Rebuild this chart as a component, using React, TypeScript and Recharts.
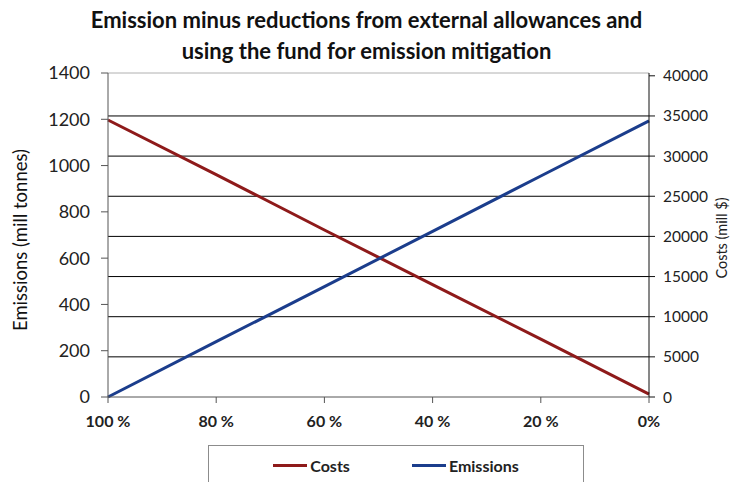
import { LineChart, Line, XAxis, YAxis, CartesianGrid, ReferenceLine, Legend } from 'recharts'

// share of fund used (x axis)
const categories = ['100 %', '80 %', '60 %', '40 %', '20 %', '0%']
const costs      = [34500, 27700, 20800, 14000, 7200, 350]   // mill $
const emissions  = [0, 239, 477, 716, 955, 1193]              // mill tonnes

const leftTicks  = [0, 200, 400, 600, 800, 1000, 1200, 1400]
const rightTicks = [0, 5000, 10000, 15000, 20000, 25000, 30000, 35000, 40000]
const gridValues = [5000, 10000, 15000, 20000, 25000, 30000, 35000]

const RED  = '#8e1a1a'
const BLUE = '#1b3d8c'
const FONT = 'Lato, "Open Sans", sans-serif'

const data = categories.map((c, i) => ({ share: c, costs: costs[i], emissions: emissions[i] }))

const LegendBox = () => (
  <div style={{
    width: 376, height: 44, border: '1px solid #8c8c8c', boxSizing: 'border-box',
    display: 'flex', justifyContent: 'center', alignItems: 'center', gap: 62,
    fontFamily: FONT, fontSize: 16, fontWeight: 700, color: '#222', paddingBottom: 4,
  }}>
    <span style={{ display: 'flex', alignItems: 'center' }}>
      <span style={{ width: 34, height: 3, background: RED, marginRight: 3 }} />Costs
    </span>
    <span style={{ display: 'flex', alignItems: 'center' }}>
      <span style={{ width: 34, height: 3, background: BLUE, marginRight: 3 }} />Emissions
    </span>
  </div>
)

export default function App() {
  return (
    <div style={{ position: 'absolute', left: 0, top: 0, width: 733, height: 482, background: '#fff', overflow: 'hidden', fontFamily: FONT }}>
      <div style={{ position: 'absolute', left: 0, top: 4, width: 733, textAlign: 'center', fontSize: 22, fontWeight: 700, lineHeight: '31px', color: '#111' }}>
        Emission minus reductions from external allowances and<br />using the fund for emission mitigation
      </div>
      <div style={{ position: 'absolute', left: 20, top: 240, transform: 'translate(-50%, -50%) rotate(-90deg)', whiteSpace: 'nowrap', fontSize: 18.5, fontWeight: 400, color: '#111' }}>
        Emissions (mill tonnes)
      </div>
      <div style={{ position: 'absolute', left: 721, top: 238, transform: 'translate(-50%, -50%) rotate(-90deg)', whiteSpace: 'nowrap', fontSize: 14.5, color: '#222' }}>
        Costs (mill $)
      </div>
      <LineChart width={733} height={482} data={data} margin={{ top: 73, right: 24, bottom: 11, left: 48 }}>
        <CartesianGrid yAxisId="right" vertical={false} horizontalValues={gridValues} stroke="#000" strokeWidth={1} />
        <ReferenceLine yAxisId="left" y={1400} stroke="#b0b0b0" />
        <XAxis
          dataKey="share" height={30} tickSize={6} tickMargin={13}
          axisLine={{ stroke: '#555' }} tickLine={{ stroke: '#555' }}
          tick={{ fontSize: 16, fontWeight: 700, fill: '#222', fontFamily: FONT }}
        />
        <YAxis
          yAxisId="left" domain={[0, 1400]} ticks={leftTicks} width={60} tickSize={7} tickMargin={11}
          axisLine={{ stroke: '#555' }} tickLine={{ stroke: '#555' }}
          tick={{ fontSize: 18, fill: '#222', fontFamily: FONT }}
        />
        <YAxis
          yAxisId="right" orientation="right" domain={[0, 40350]} ticks={rightTicks} width={60} tickSize={6} tickMargin={8}
          axisLine={{ stroke: '#111' }} tickLine={{ stroke: '#111' }}
          tick={{ fontSize: 15.5, fill: '#222', fontFamily: FONT }}
        />
        <Line yAxisId="right" dataKey="costs" name="Costs" stroke={RED} strokeWidth={3} dot={false} isAnimationActive={false} />
        <Line yAxisId="left" dataKey="emissions" name="Emissions" stroke={BLUE} strokeWidth={3} dot={false} isAnimationActive={false} />
        <Legend content={<LegendBox />} wrapperStyle={{ position: 'absolute', left: 208, top: 445, width: 376, height: 44 }} />
      </LineChart>
    </div>
  )
}
